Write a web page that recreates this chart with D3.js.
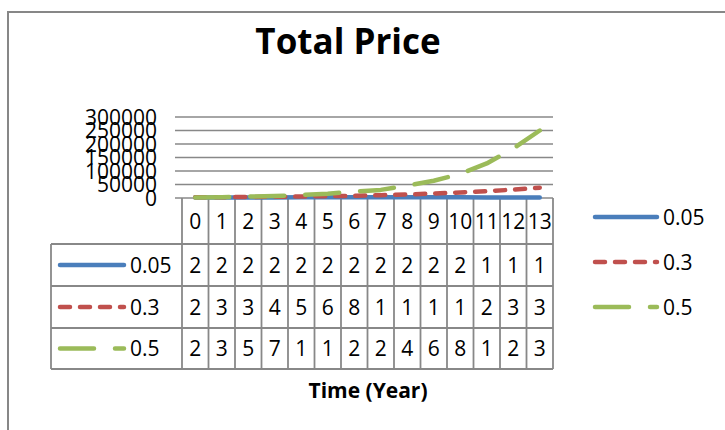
<!DOCTYPE html>
<html>
<head>
<meta charset="utf-8">
<script src="https://cdn.jsdelivr.net/npm/d3@7"></script>
<style>
  body { margin: 0; background: #fff; }
  svg { display: block; font-family: "Open Sans", sans-serif; }
</style>
</head>
<body>
<div id="chart"></div>
<script>
// years on the category axis
const years = [0, 1, 2, 3, 4, 5, 6, 7, 8, 9, 10, 11, 12, 13];
const seriesNames = ["0.05", "0.3", "0.5"];

// values
const price005 = [2000, 2100, 2200, 2300, 2400, 2500, 2600, 2700, 2800, 2900, 2900, 1900, 1800, 1700];
const price03 = [2400, 3000, 3700, 4500, 5600, 6800, 8300, 10500, 13000, 16500, 20500, 25000, 31000, 38000];
const price05 = [2000, 3200, 5200, 7500, 11000, 16000, 24000, 30000, 46000, 64000, 89000, 128000, 183000, 250000];

// what the data table cells actually show (clipped)
const table005 = ["2", "2", "2", "2", "2", "2", "2", "2", "2", "2", "2", "1", "1", "1"];
const table03 = ["2", "3", "3", "4", "5", "6", "8", "1", "1", "1", "1", "2", "3", "3"];
const table05 = ["2", "3", "5", "7", "1", "1", "2", "2", "4", "6", "8", "1", "2", "3"];

const yTicks = [0, 50000, 100000, 150000, 200000, 250000, 300000];

const colors = ["#4a7ebb", "#c0504d", "#9bbb59"];
const dashes = [null, "10,10", "34,21"];

const W = 725, H = 430;
const grid = "#888";

const svg = d3.select("#chart").append("svg")
    .attr("width", W)
    .attr("height", H);

// outer chart frame
svg.append("rect")
    .attr("x", 8).attr("y", 12)
    .attr("width", W + 20).attr("height", H + 20)
    .attr("fill", "#fff")
    .attr("stroke", "#878787")
    .attr("stroke-width", 2);

svg.append("text")
    .attr("x", 348).attr("y", 54)
    .attr("text-anchor", "middle")
    .attr("font-size", 35)
    .attr("font-weight", "bold")
    .text("Total Price");

const plotLeft = 182, plotRight = 553;
const x = d3.scaleBand()
    .domain(years)
    .range([plotLeft, plotRight]);

const y = d3.scaleLinear()
    .domain([0, 300000])
    .range([198, 117]);

// gridlines with tick stubs
svg.append("g")
    .selectAll("line")
    .data(yTicks)
    .join("line")
    .attr("x1", 175).attr("x2", plotRight)
    .attr("y1", d => y(d)).attr("y2", d => y(d))
    .attr("stroke", grid)
    .attr("stroke-width", 1.5);

svg.append("g")
    .selectAll("text")
    .data(yTicks)
    .join("text")
    .attr("x", 157)
    .attr("y", d => y(d))
    .attr("dy", "0.36em")
    .attr("text-anchor", "end")
    .attr("font-size", 21)
    .text(d => d);

// data table
const rowTop = [198, 244, 286, 328, 369];
const tbl = svg.append("g");

function line(g, x1, y1, x2, y2) {
    g.append("line")
        .attr("x1", x1).attr("y1", y1).attr("x2", x2).attr("y2", y2)
        .attr("stroke", grid)
        .attr("stroke-width", 1.8);
}

years.forEach(d => line(tbl, x(d), 198, x(d), 369));
line(tbl, plotRight, 198, plotRight, 369);
line(tbl, 51, 244, 51, 369);
rowTop.slice(1).forEach(r => line(tbl, 51, r, plotRight, r));

tbl.append("g")
    .selectAll("text")
    .data(years)
    .join("text")
    .attr("x", d => x(d) + x.bandwidth() / 2)
    .attr("y", 221)
    .attr("dy", "0.36em")
    .attr("text-anchor", "middle")
    .attr("font-size", 21)
    .text(d => d);

function legendKey(g, x1, x2, cy, i) {
    g.append("line")
        .attr("x1", x1 + 2).attr("x2", x2 - 2)
        .attr("y1", cy).attr("y2", cy)
        .attr("stroke", colors[i])
        .attr("stroke-width", 4.5)
        .attr("stroke-linecap", "round")
        .attr("stroke-dasharray", dashes[i]);
}

const tables = [table005, table03, table05];
tables.forEach((cells, i) => {
    const cy = (rowTop[i + 1] + rowTop[i + 2]) / 2;
    tbl.append("g")
        .selectAll("text")
        .data(cells)
        .join("text")
        .attr("x", (d, j) => x(years[j]) + x.bandwidth() / 2)
        .attr("y", cy)
        .attr("dy", "0.36em")
        .attr("text-anchor", "middle")
        .attr("font-size", 21)
        .text(d => d);

    // legend key inside the table
    legendKey(tbl, 58, 126, cy, i);
    tbl.append("text")
        .attr("x", 130).attr("y", cy)
        .attr("dy", "0.36em")
        .attr("font-size", 21)
        .text(seriesNames[i]);
});

// the three lines
const allSeries = [price005, price03, price05];
const lineGen = d3.line()
    .x((d, j) => x(years[j]) + x.bandwidth() / 2)
    .y(d => y(d));

svg.append("g")
    .selectAll("path")
    .data(allSeries)
    .join("path")
    .attr("d", d => lineGen(d))
    .attr("fill", "none")
    .attr("stroke", (d, i) => colors[i])
    .attr("stroke-width", 4.5)
    .attr("stroke-linecap", "round")
    .attr("stroke-linejoin", "round")
    .attr("stroke-dasharray", (d, i) => dashes[i]);

// legend on the right
const legendY = [217, 262, 307];
seriesNames.forEach((name, i) => {
    legendKey(svg, 593, 659, legendY[i], i);
    svg.append("text")
        .attr("x", 663).attr("y", legendY[i])
        .attr("dy", "0.36em")
        .attr("font-size", 21)
        .text(name);
});

svg.append("text")
    .attr("x", 368).attr("y", 398)
    .attr("text-anchor", "middle")
    .attr("font-size", 21)
    .attr("font-weight", "bold")
    .text("Time (Year)");
</script>
</body>
</html>
